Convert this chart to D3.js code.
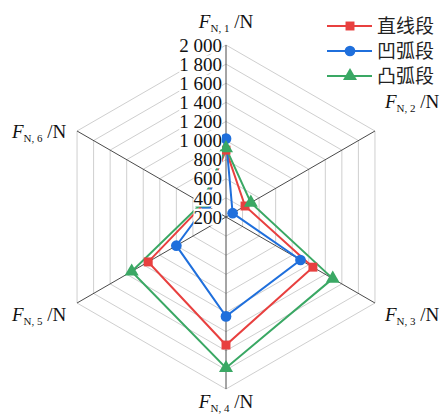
<!DOCTYPE html>
<html>
<head>
<meta charset="utf-8">
<script src="https://cdn.jsdelivr.net/npm/d3@7/dist/d3.min.js"></script>
<style>
  html, body { margin: 0; padding: 0; background: #fff; }
  svg { display: block; }
  .serif { font-family: "Liberation Serif", "Times New Roman", serif; }
  .cjk { font-family: "Noto Sans CJK SC", sans-serif; }
</style>
</head>
<body>
<div id="chart"></div>
<script>
// axes F_N,1 .. F_N,6 (clockwise from top)
const axis_names = ["1", "2", "3", "4", "5", "6"];
const tick_values = [200, 400, 600, 800, 1000, 1200, 1400, 1600, 1800, 2000];
const tick_labels = ["200", "400", "600", "800", "1 000", "1 200", "1 400", "1 600", "1 800", "2 000"];

const series_names = ["直线段", "凹弧段", "凸弧段"];
const straight_vals = [900, 430, 1250, 1540, 1140, 470];
const concave_vals = [1020, 280, 1100, 1240, 800, 440];
const convex_vals = [920, 500, 1490, 1780, 1340, 490];

const colors = ["#e8403f", "#1f6fdc", "#3aa864"];
const series = [straight_vals, concave_vals, convex_vals];

const width = 440, height = 416;
const cx = 226, cy = 217, R = 172;

const svg = d3.select("#chart").append("svg")
  .attr("width", width).attr("height", height);

const rScale = d3.scaleLinear().domain([200, 2000]).range([0, R]);
const angle = (i) => (-90 + 60 * i) * Math.PI / 180;
const pt = (i, v) => [cx + rScale(v) * Math.cos(angle(i)), cy + rScale(v) * Math.sin(angle(i))];

// grid rings
const ring = d3.line().curve(d3.curveLinearClosed);
svg.append("g").selectAll("path")
  .data(tick_values.slice(1))
  .enter().append("path")
  .attr("d", v => ring(axis_names.map((_, i) => pt(i, v))))
  .attr("fill", "none")
  .attr("stroke", "#cfcfcf")
  .attr("stroke-width", 1);

// axes
svg.append("g").selectAll("line")
  .data(axis_names)
  .enter().append("line")
  .attr("x1", cx).attr("y1", cy)
  .attr("x2", (d, i) => pt(i, 2000)[0])
  .attr("y2", (d, i) => pt(i, 2000)[1])
  .attr("stroke", "#4a4a4a")
  .attr("stroke-width", 1);

// series lines
const line = d3.line().curve(d3.curveLinearClosed);
svg.append("g").selectAll("path")
  .data(series)
  .enter().append("path")
  .attr("d", vals => line(vals.map((v, i) => pt(i, v))))
  .attr("fill", "none")
  .attr("stroke", (d, k) => colors[k])
  .attr("stroke-width", 2);

// markers
const mg = svg.append("g");
const shapes = [d3.symbolSquare, d3.symbolCircle, d3.symbolTriangle];
const sizes = [80, 90, 85];
series.forEach((vals, k) => {
  mg.selectAll(".m" + k)
    .data(vals)
    .enter().append("path")
    .attr("class", "m" + k)
    .attr("transform", (v, i) => `translate(${pt(i, v)[0]},${pt(i, v)[1]})`)
    .attr("d", d3.symbol().type(shapes[k]).size(sizes[k]))
    .attr("fill", colors[k]);
});

// tick labels with white background (they sit over the lines)
const tg = svg.append("g");
tick_values.forEach((v, k) => {
  const g = tg.append("g");
  const t = g.append("text")
    .attr("class", "serif")
    .attr("x", cx - 4)
    .attr("y", cy - rScale(v))
    .attr("dy", "0.35em")
    .attr("text-anchor", "end")
    .attr("font-size", 19)
    .attr("fill", "#111")
    .text(tick_labels[k]);
  const bb = t.node().getBBox();
  g.insert("rect", "text")
    .attr("x", bb.x).attr("y", bb.y + 2)
    .attr("width", bb.width).attr("height", bb.height - 4)
    .attr("fill", "#fff");
});

// axis titles
const label_pos = [
  [226, 21, "middle"],
  [385, 101, "start"],
  [385, 314, "start"],
  [226, 401, "middle"],
  [12, 314, "start"],
  [12, 131, "start"]
];
axis_names.forEach((n, i) => {
  const t = svg.append("text")
    .attr("class", "serif")
    .attr("x", label_pos[i][0])
    .attr("y", label_pos[i][1])
    .attr("dy", "0.35em")
    .attr("text-anchor", label_pos[i][2])
    .attr("font-size", 19)
    .attr("fill", "#111");
  t.append("tspan").attr("font-style", "italic").text("F");
  t.append("tspan").attr("font-size", 11).attr("dy", 4).text("N, " + n);
  t.append("tspan").attr("dy", -4).text(" /N");
});

// legend
const lg = svg.append("g");
series_names.forEach((name, k) => {
  const y = 26 + k * 25;
  lg.append("line")
    .attr("x1", 327).attr("x2", 372)
    .attr("y1", y).attr("y2", y)
    .attr("stroke", colors[k]).attr("stroke-width", 2);
  lg.append("path")
    .attr("transform", `translate(350,${y})`)
    .attr("d", d3.symbol().type(shapes[k]).size(sizes[k]))
    .attr("fill", colors[k]);
  lg.append("text")
    .attr("class", "cjk")
    .attr("x", 377).attr("y", y)
    .attr("dy", "0.36em")
    .attr("font-size", 19)
    .attr("fill", "#222")
    .text(name);
});
</script>
</body>
</html>
